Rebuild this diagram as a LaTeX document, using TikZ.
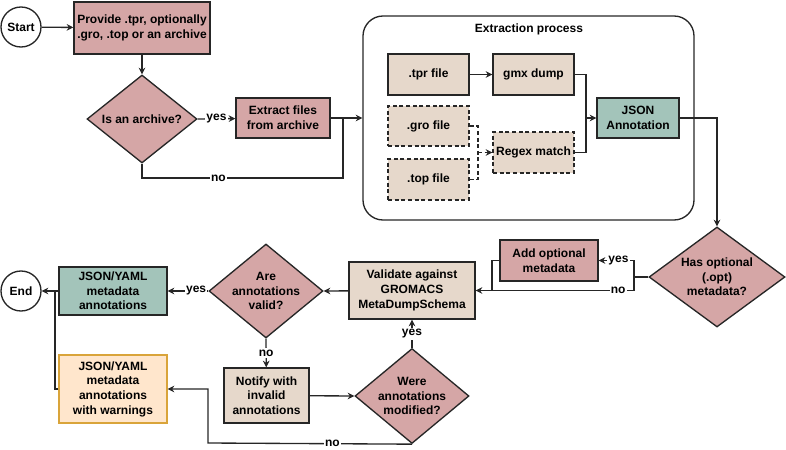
\documentclass[tikz,border=0pt]{standalone}
\usepackage{fontspec}
\setmainfont{Liberation Sans}
\usetikzlibrary{shapes.geometric,arrows.meta}
\definecolor{pinkf}{HTML}{D5A6A6}
\definecolor{tanf}{HTML}{E6D8CB}
\definecolor{greenf}{HTML}{A3C4BA}
\definecolor{orangef}{HTML}{FFE6CC}
\definecolor{oranged}{HTML}{D9A43A}
\tikzset{
  base/.style = {align=center, inner sep=1pt, font=\fontsize{9}{11}\selectfont\bfseries, line width=1pt, draw=black!85},
  sz/.style 2 args = {minimum width=#1*0.75pt, minimum height=#2*0.75pt},
  box_p/.style = {base, rectangle, fill=pinkf},
  box_t/.style = {base, rectangle, fill=tanf},
  box_td/.style = {box_t, dash pattern=on 3pt off 2pt},
  box_g/.style = {base, rectangle, fill=greenf},
  box_o/.style = {base, rectangle, fill=orangef, draw=oranged},
  dia_p/.style = {base, diamond, fill=pinkf, inner sep=0pt},
  dtxt/.style = {align=center, inner sep=0pt, font=\fontsize{9}{11}\selectfont\bfseries},
  term/.style = {base, circle, fill=white, minimum size=30pt},
  cont/.style = {base, rectangle, rounded corners=15pt},
  lbl/.style = {fill=white, inner sep=1pt, font=\fontsize{9}{11}\selectfont\bfseries},
  flow/.style = {line width=1pt, draw=black!85, -{Stealth[length=5pt,width=5pt]}},
  wire/.style = {line width=1pt, draw=black!85},
}

\begin{document}
\begin{tikzpicture}[x=0.75pt, y=-0.75pt]
  \useasboundingbox (0,0) rectangle (786,450);
  \node [term] (start) at (21,27) {Start};
  \node [box_p, sz={136}{52}] (provide) at (142,28) {Provide .tpr, optionally\\.gro, .top or an archive};
  \node [dia_p, sz={110}{88}, label={[dtxt]center:{Is an archive?}}] (isarch) at (142,119) {};
  \node [box_p, sz={94}{40}] (extract) at (283,118) {Extract files\\from archive};
  \coordinate (join) at (343,118);
  \coordinate (nojoin) at (343,178);

  \node [cont, sz={331}{204}] (extraction) at (528.5,118) {};
  \node [dtxt] (extitle) at (529,29) {Extraction process};
  \node [box_t, sz={81}{41}] (tpr) at (428.5,74.5) {.tpr file};
  \node [box_t, sz={81}{41}] (gmx) at (533.5,74.5) {gmx dump};
  \node [box_td, sz={81}{40}] (gro) at (428.5,126) {.gro file};
  \node [box_td, sz={81}{41}] (top) at (428.5,179.5) {.top file};
  \node [box_td, sz={81}{41}] (regex) at (533.5,152.5) {Regex match};
  \node [box_g, sz={82}{40}] (json) at (638,118) {JSON\\Annotation};
  \coordinate (jmerge) at (586,118);
  \coordinate (rmerge) at (478,152.5);

  \node [dia_p, sz={136}{100}, label={[dtxt]center:{Has optional\\(.opt)\\metadata?}}] (hasopt) at (717,277) {};
  \coordinate (optsplit) at (634,277);
  \node [box_p, sz={98}{41}] (addopt) at (549,260.5) {Add optional\\metadata};
  \coordinate (addjoin) at (492,290.5);
  \node [box_t, sz={126}{57}] (validate) at (412,290.5) {Validate against\\GROMACS\\MetaDumpSchema};
  \node [dia_p, sz={114}{94}, label={[dtxt]center:{Are\\annotations\\valid?}}] (areval) at (266,291) {};
  \node [box_g, sz={108}{48}] (jsonout) at (113,291) {JSON/YAML\\metadata\\annotations};
  \node [term] (endc) at (21,291) {End};
  \coordinate (endjoin) at (55,291);
  \node [box_t, sz={85}{55}] (notify) at (266.5,395.5) {Notify with\\invalid\\annotations};
  \node [dia_p, sz={114}{95}, label={[dtxt]center:{Were\\annotations\\modified?}}] (were) at (412,396) {};
  \node [box_o, sz={108}{68}] (warn) at (113,389) {JSON/YAML\\metadata\\annotations\\with warnings};
  \coordinate (wback) at (208,443);

  \draw [flow] (start) -- (provide);
  \draw [flow] (provide) -- (isarch);
  \draw [flow] (isarch.east) -- node [lbl] {yes} (extract);
  \draw [wire] (extract) -- (join);
  \draw [wire] (isarch.south) |- node [lbl, pos=0.69] {no} (nojoin) -- (join);
  \draw [flow] (join) -- (extraction.west);

  \draw [flow] (tpr) -- (gmx);
  \draw [wire] (gmx.east) -| (jmerge);
  \draw [wire] (regex.east) -| (jmerge);
  \draw [flow] (jmerge) -- (json);
  \draw [wire, dash pattern=on 3pt off 2pt] (gro.east) -| (rmerge);
  \draw [wire, dash pattern=on 3pt off 2pt] (top.east) -| (rmerge);
  \draw [flow, dash pattern=on 3pt off 2pt] (rmerge) -- (regex);

  \draw [flow] (json.east) -| (hasopt.north);
  \draw [wire] (hasopt.west) -- (optsplit);
  \draw [flow] (optsplit) |- node [lbl, pos=0.72] {yes} (addopt.east);
  \draw [flow] (optsplit) |- node [lbl, pos=0.55] {no} (validate.east);
  \draw [wire] (addopt.west) -| (addjoin);
  \draw [flow] (validate) -- (areval.east);
  \draw [flow] (areval.west) -- node [lbl, pos=0.3] {yes} (jsonout);
  \draw [flow] (jsonout) -- (endc);
  \draw [flow] (areval.south) -- node [lbl] {no} (notify);
  \draw [flow] (notify) -- (were.west);
  \draw [flow] (were.north) -- node [lbl] {yes} (validate);
  \draw [flow] (were.south) -- node [lbl, pos=0.39] {no} (wback) |- (warn.east);
  \draw [wire] (warn.west) -| (endjoin);
\end{tikzpicture}
\end{document}
